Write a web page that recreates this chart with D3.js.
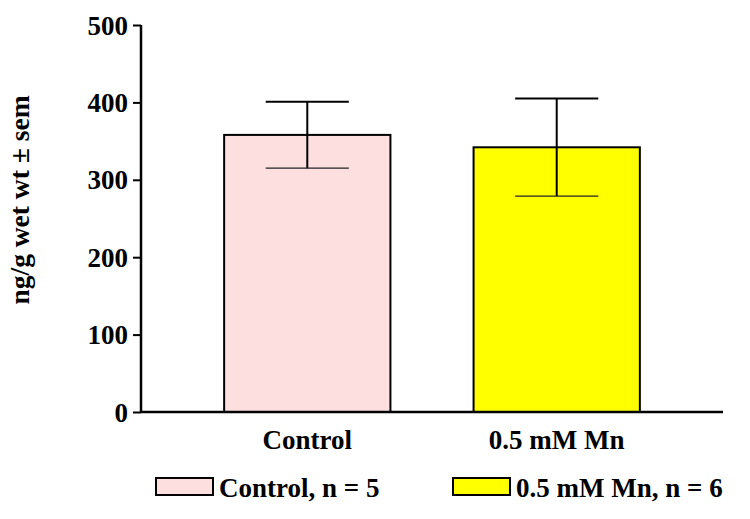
<!DOCTYPE html>
<html>
<head>
<meta charset="utf-8">
<script src="https://cdn.jsdelivr.net/npm/d3@7/dist/d3.min.js"></script>
<style>
  html, body { margin: 0; padding: 0; background: #fff; }
  svg { display: block; }
  text { font-family: "Liberation Serif", "Times New Roman", serif; font-weight: bold; fill: #000; }
</style>
</head>
<body>
<svg id="chart" width="750" height="519"></svg>
<script>
const categories = ["Control", "0.5 mM Mn"];
const means = [358, 342];
const sems = [43, 63];
const colors = ["#FDDFDF", "#FFFF00"];
const legendLabels = ["Control, n = 5", "0.5 mM Mn, n = 6"];
const yTicks = [0, 100, 200, 300, 400, 500];

const svg = d3.select("#chart");
const x0 = 141, x1 = 723, yTop = 25, yBot = 412;

const y = d3.scaleLinear().domain([0, 500]).range([yBot, yTop]);
const x = d3.scaleBand().domain(categories).range([x0, x1])
  .paddingInner(1/3).paddingOuter(1/3);

// Bars
svg.selectAll("rect.bar").data(categories).enter().append("rect")
  .attr("class", "bar")
  .attr("x", d => x(d))
  .attr("y", (d, i) => y(means[i]))
  .attr("width", x.bandwidth())
  .attr("height", (d, i) => y(0) - y(means[i]))
  .attr("fill", (d, i) => colors[i])
  .attr("stroke", "#000")
  .attr("stroke-width", 2);

// Error bars
const capW = x.bandwidth() / 2;
const eg = svg.selectAll("g.err").data(categories).enter().append("g").attr("class", "err");
eg.append("line")
  .attr("x1", d => x(d) + x.bandwidth() / 2)
  .attr("x2", d => x(d) + x.bandwidth() / 2)
  .attr("y1", (d, i) => y(means[i] + sems[i]))
  .attr("y2", (d, i) => y(means[i] - sems[i]))
  .attr("stroke", "#000").attr("stroke-width", 2);
eg.append("line")
  .attr("x1", d => x(d) + x.bandwidth() / 2 - capW / 2)
  .attr("x2", d => x(d) + x.bandwidth() / 2 + capW / 2)
  .attr("y1", (d, i) => y(means[i] + sems[i]))
  .attr("y2", (d, i) => y(means[i] + sems[i]))
  .attr("stroke", "#000").attr("stroke-width", 2);
eg.append("line")
  .attr("x1", d => x(d) + x.bandwidth() / 2 - capW / 2)
  .attr("x2", d => x(d) + x.bandwidth() / 2 + capW / 2)
  .attr("y1", (d, i) => y(means[i] - sems[i]))
  .attr("y2", (d, i) => y(means[i] - sems[i]))
  .attr("stroke", "#222").attr("stroke-width", 1.3);

// Y axis
const yAxis = d3.axisLeft(y).tickValues(yTicks).tickSize(8).tickPadding(5).tickFormat(d3.format("d"));
const gy = svg.append("g").attr("transform", `translate(${x0},0)`).call(yAxis);
gy.select(".domain").attr("stroke", "#000").attr("stroke-width", 2.5).attr("d", `M0,${yTop}V${yBot}`);
gy.selectAll(".tick line").attr("stroke", "#000").attr("stroke-width", 2);
gy.selectAll(".tick text").attr("font-size", 27).attr("font-family", "Liberation Serif, serif").attr("font-weight", "bold").attr("dy", "0.34em");

// X axis
const xAxis = d3.axisBottom(x).tickSize(0).tickPadding(0);
const gx = svg.append("g").attr("transform", `translate(0,${yBot})`).call(xAxis);
gx.select(".domain").attr("stroke", "#000").attr("stroke-width", 2.5).attr("d", `M${x0},0H${x1}`);
gx.selectAll(".tick text").attr("font-size", 27).attr("font-family", "Liberation Serif, serif").attr("font-weight", "bold")
  .attr("y", 37).attr("dy", 0);

// Y label
svg.append("text")
  .attr("transform", "translate(29,200) rotate(-90)")
  .attr("text-anchor", "middle")
  .attr("font-size", 27.5)
  .text("ng/g wet wt \u00B1 sem");

// Legend
const legX = [156, 453];
const lg = svg.selectAll("g.leg").data(legendLabels).enter().append("g").attr("class", "leg")
  .attr("transform", (d, i) => `translate(${legX[i]},478)`);
lg.append("rect").attr("width", 57).attr("height", 17)
  .attr("fill", (d, i) => colors[i]).attr("stroke", "#000").attr("stroke-width", 2);
lg.append("text").attr("x", 63).attr("y", 19).attr("font-size", 27).text(d => d);
</script>
</body>
</html>
